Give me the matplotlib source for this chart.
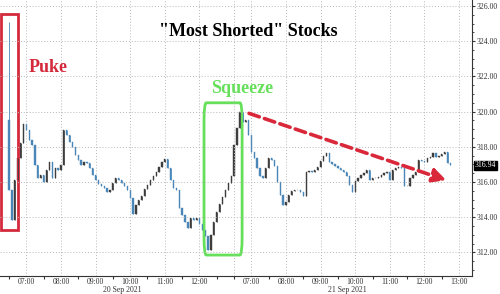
import numpy as np
import matplotlib
matplotlib.use("Agg")
import matplotlib.pyplot as plt
from matplotlib.patches import FancyBboxPatch, Rectangle
import matplotlib.transforms as mtransforms

# 5-minute closes, session starts 06:30 each day
day1_close = [315.55, 313.84, 316.11, 317.36, 318.22, 319.30, 318.95, 318.39, 318.10, 316.97,
              316.23, 316.40, 316.00, 316.68, 317.14, 316.23, 316.80, 316.68, 316.97, 318.95,
              318.67, 318.27, 317.99, 317.53, 317.25, 316.97, 317.14, 317.08, 316.80, 316.40,
              316.11, 315.89, 315.77, 315.66, 315.43, 315.55, 315.94, 316.23, 316.11, 315.94,
              315.77, 315.55, 315.09, 314.18, 314.69, 314.98, 315.20, 315.60, 315.83, 316.11,
              316.34, 316.57, 316.85, 317.14, 317.31, 316.80, 316.11, 315.66, 315.55, 314.52,
              314.12, 313.73, 313.39, 313.95, 313.84, 313.95, 313.61, 313.27, 312.93, 312.15,
              312.99, 313.73, 314.30, 314.75, 315.15, 315.55, 315.94, 316.34]
day2_close = [318.10, 319.07, 319.98, 319.41, 319.52, 318.67, 317.70, 317.36, 316.80, 316.34,
              316.23, 316.80, 317.36, 317.25, 316.91, 316.00, 315.26, 314.69, 314.86, 315.26,
              315.49, 315.55, 315.55, 315.43, 315.20, 316.57, 316.63, 316.57, 316.68, 316.85,
              317.19, 317.48, 317.65, 317.14, 317.02, 316.91, 316.80, 316.68, 316.57, 316.34,
              315.83, 315.43, 316.06, 316.23, 316.40, 316.51, 316.68, 316.11, 316.23, 316.23,
              316.28, 316.40, 316.51, 316.57, 316.11, 316.68, 316.80, 316.85, 316.80, 315.77,
              315.77, 316.23, 316.40, 316.57, 317.25, 317.19, 317.14, 317.36, 317.42, 317.65,
              317.42, 317.48, 317.59, 317.70, 317.08, 316.94]
first_open = 319.50
first_high = 325.10
last_price = 316.94

hour_labels = ["07:00", "08:00", "09:00", "10:00", "11:00", "12:00",
               "07:00", "08:00", "09:00", "10:00", "11:00", "12:00", "13:00"]
hour_pos = [30, 90, 150, 210, 270, 330, 420, 480, 540, 600, 660, 720, 780]
day_labels = ["20 Sep 2021", "21 Sep 2021"]

closes = np.array(day1_close + day2_close)
x = np.arange(len(closes)) * 5
opens = np.concatenate([[first_open], closes[:-1]])
highs = np.maximum(opens, closes)
lows = np.minimum(opens, closes)
highs[0] = first_high

up_col = "#3d3d3d"
dn_col = "#4a87b8"
cols = [up_col if c >= o else dn_col for o, c in zip(opens, closes)]

fig = plt.figure(figsize=(5, 2.94), dpi=100)
ax = fig.add_axes([0.0, 18 / 294, 472 / 500, 276 / 294])

ax.vlines(x, lows, highs, color=cols, linewidth=0.6)
ax.bar(x, closes - opens, bottom=opens, width=2.2, color=cols, edgecolor=cols, linewidth=0.3)

ax.set_xlim(-15.6, 802.4)
ax.set_ylim(310.66, 326.34)

ax.yaxis.tick_right()
ax.set_yticks(np.arange(312, 327, 2))
ax.set_yticklabels([f"{v:.2f}" for v in np.arange(312, 327, 2)])
ax.set_yticks(np.arange(311, 326.5, 0.5), minor=True)
ax.tick_params(axis="y", which="major", length=2.5, width=0.8, colors="#333333", labelsize=5.6, pad=1)
ax.tick_params(axis="y", which="minor", length=1.5, width=0.6, colors="#333333")

ax.set_xticks(hour_pos)
ax.set_xticklabels(hour_labels)
ax.set_xticks([0, 60, 120, 180, 240, 300, 360, 390, 450, 510, 570, 630, 690, 750], minor=True)
ax.tick_params(axis="x", which="major", length=0, labelsize=5.6, colors="#333333", pad=1.5)
ax.tick_params(axis="x", which="minor", length=2.5, width=0.8, color="#333333")
for lab in ax.get_xticklabels() + ax.get_yticklabels():
    lab.set_family("Liberation Serif")

ax.grid(True, which="major", linestyle=(0, (1, 2)), color="#b8b8b8", linewidth=0.7)
ax.axvline(390, linestyle=(0, (1, 2)), color="#b8b8b8", linewidth=0.7)
for s in ["left", "top"]:
    ax.spines[s].set_visible(False)
for s in ["right", "bottom"]:
    ax.spines[s].set_color("#333333")
    ax.spines[s].set_linewidth(0.8)

# last price tag
tr = mtransforms.blended_transform_factory(ax.transAxes, ax.transData)
ax.text(1.006, last_price, f"{last_price:.2f}", transform=tr, fontsize=5.6, color="white",
        family="Liberation Serif", va="center", ha="left",
        bbox=dict(boxstyle="square,pad=0.12", fc="black", ec="black"))

# annotations
fig.text(248 / 500, 1 - 32 / 294, '"Most Shorted" Stocks', family="Liberation Serif",
         fontweight="bold", fontsize=13, ha="center", va="center", color="black")
ax.add_patch(Rectangle((-13.9, 313.27), 29.5, 12.28, fill=False, ec="#d42a3c", lw=2))
ax.text(67.6, 322.53, "Puke", family="Liberation Serif", fontweight="bold", fontsize=13,
        color="#d42a3c", ha="center", va="center")
ax.add_patch(FancyBboxPatch((338, 311.85), 66, 8.65, boxstyle="round,pad=0,rounding_size=4",
                            fill=False, ec="#66e05a", lw=2, mutation_aspect=0.25))
ax.text(404, 321.3, "Squeeze", family="Liberation Serif", fontweight="bold", fontsize=13,
        color="#66e05a", ha="center", va="center")
ax.annotate("", xy=(758, 316.1), xytext=(416, 319.9),
            arrowprops=dict(arrowstyle="-|>,head_length=0.8,head_width=0.4", color="#d9283a",
                            lw=2.6, linestyle=(0, (3, 1.5)), shrinkA=0, shrinkB=0))

fig.text(122 / 500, 1 - 289.5 / 294, day_labels[0], family="Liberation Serif", fontsize=5.6,
         color="#333333", ha="center", va="center")
fig.text(347 / 500, 1 - 289.5 / 294, day_labels[1], family="Liberation Serif", fontsize=5.6,
         color="#333333", ha="center", va="center")

fig.savefig("out.png", dpi=100)
